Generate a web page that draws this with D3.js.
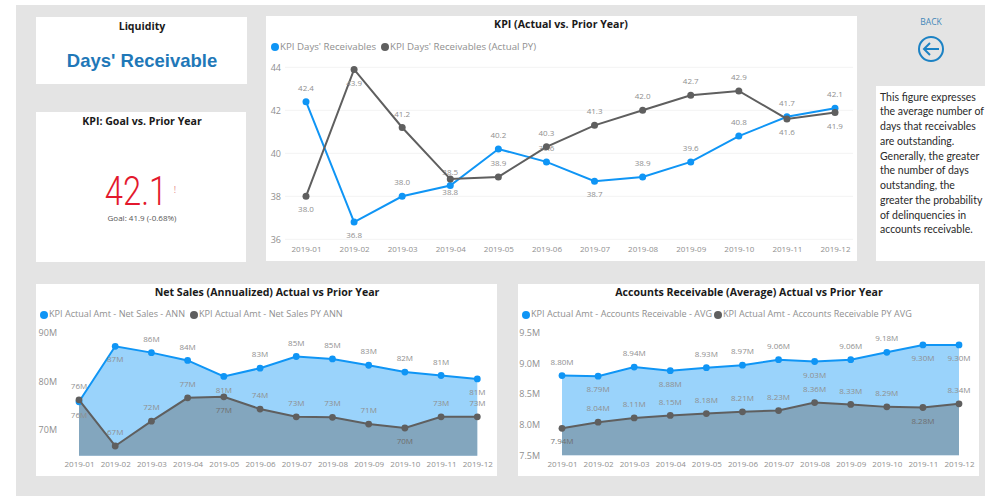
<!DOCTYPE html>
<html>
<head>
<meta charset="utf-8">
<script src="https://cdn.jsdelivr.net/npm/d3@7"></script>
<style>
  body { margin: 0; background: #fff; }
  svg { display: block; }
  text { font-family: "Open Sans", sans-serif; }
</style>
</head>
<body>
<div id="chart"></div>
<script>
const months = ["2019-01", "2019-02", "2019-03", "2019-04", "2019-05", "2019-06",
                "2019-07", "2019-08", "2019-09", "2019-10", "2019-11", "2019-12"];

const kpiActual = [42.4, 36.8, 38.0, 38.5, 40.2, 39.6, 38.7, 38.9, 39.6, 40.8, 41.7, 42.1];
const kpiPrior = [38.0, 43.9, 41.2, 38.8, 38.9, 40.3, 41.3, 42.0, 42.7, 42.9, 41.6, 41.9];
const kpiTicks = [36, 38, 40, 42, 44];

const salesActual = [75.8, 87.2, 85.9, 84.3, 81.0, 82.7, 85.1, 84.6, 83.3, 81.9, 81.2, 80.5];
const salesPrior = [76.2, 66.7, 71.8, 76.6, 76.8, 74.3, 72.7, 72.6, 71.2, 70.4, 72.7, 72.7];
const salesTicks = [70, 80, 90];

const arActual = [8.80, 8.79, 8.94, 8.88, 8.93, 8.97, 9.06, 9.03, 9.06, 9.18, 9.30, 9.30];
const arPrior = [7.94, 8.04, 8.11, 8.15, 8.18, 8.21, 8.23, 8.36, 8.33, 8.29, 8.28, 8.34];
const arTicks = [7.5, 8.0, 8.5, 9.0, 9.5];

const noteLines = ["This figure expresses", "the average number of", "days that receivables",
                   "are outstanding.", "Generally, the greater", "the number of days",
                   "outstanding, the", "greater the probability", "of delinquencies in",
                   "accounts receivable."];

// index of the points whose label sits under the point
const kpiActualBelow = [1, 6];
const kpiPriorBelow = [0, 1, 3, 10, 11];
const salesActualBelow = [0, 1, 4, 11];
const salesPriorBelow = [4, 9];
const arActualBelow = [1, 3, 7, 10, 11];
const arPriorBelow = [0, 10];

const BLUE = "#0f95f5";
const GREY = "#5f5f5f";
const LABEL = "#8f8f8f";

const svg = d3.select("#chart").append("svg")
  .attr("width", 985)
  .attr("height", 496);

svg.append("rect").attr("x", 16).attr("y", 5).attr("width", 969).attr("height", 491).attr("fill", "#e4e4e4");

function card(x, y, w, h) {
  svg.append("rect").attr("x", x).attr("y", y).attr("width", w).attr("height", h).attr("fill", "#fff");
}

function title(txt, x, y) {
  svg.append("text")
    .attr("x", x).attr("y", y)
    .attr("text-anchor", "middle")
    .attr("dominant-baseline", "middle")
    .style("font-size", "10.6px")
    .style("font-weight", 700)
    .style("fill", "#1a1a1a")
    .text(txt);
}

function drawChart(c) {
  const x = d3.scalePoint().domain(months).range(c.xRange);
  const y = d3.scaleLinear().domain(c.domain).range(c.yRange);

  // legend
  c.legend.forEach(function (d, i) {
    svg.append("circle").attr("cx", d.x).attr("cy", c.legendY).attr("r", 4).attr("fill", i == 0 ? BLUE : GREY);
    svg.append("text")
      .attr("x", d.x + 5).attr("y", c.legendY)
      .attr("dominant-baseline", "middle")
      .style("font-size", c.legendSize)
      .style("fill", "#8f8f8f")
      .text(d.name);
  });

  if (c.grid) {
    svg.append("g").selectAll("line").data(c.ticks).join("line")
      .attr("x1", c.grid[0]).attr("x2", c.grid[1])
      .attr("y1", d => y(d)).attr("y2", d => y(d))
      .attr("stroke", "#f3f3f3");
  }

  const yAxis = svg.append("g")
    .attr("transform", "translate(" + c.axisX + ",0)")
    .call(d3.axisLeft(y).tickValues(c.ticks).tickSize(0).tickPadding(0).tickFormat(c.tickFormat));
  const xAxis = svg.append("g")
    .attr("transform", "translate(0," + c.axisY + ")")
    .call(d3.axisBottom(x).tickSize(0).tickPadding(0));
  for (const a of [yAxis, xAxis]) {
    a.select(".domain").remove();
    a.selectAll("text").style("font-family", '"Open Sans", sans-serif').style("font-size", "9px").style("fill", LABEL);
  }
  xAxis.selectAll("text").attr("dy", "0.32em").style("font-size", "8px");

  const series = [
    {vals: c.actual, color: BLUE, below: c.actualBelow, opacity: 0.42},
    {vals: c.prior, color: GREY, below: c.priorBelow, opacity: 0.39}
  ];

  for (const s of series) {
    if (c.area) {
      const area = d3.area()
        .x((d, i) => x(months[i]))
        .y0(y(c.domain[0]))
        .y1(d => y(d));
      svg.append("path").attr("d", area(s.vals)).attr("fill", s.color).attr("fill-opacity", s.opacity);
    }
  }

  for (const s of series) {
    const line = d3.line().x((d, i) => x(months[i])).y(d => y(d));
    svg.append("path").attr("d", line(s.vals)).attr("fill", "none").attr("stroke", s.color).attr("stroke-width", 2);
    svg.append("g").selectAll("circle").data(s.vals).join("circle")
      .attr("cx", (d, i) => x(months[i]))
      .attr("cy", d => y(d))
      .attr("r", c.area ? 3.4 : 3.5)
      .attr("fill", s.color);
    svg.append("g").selectAll("text").data(s.vals).join("text")
      .attr("x", (d, i) => x(months[i]))
      .attr("y", (d, i) => y(d) + (s.below.includes(i) ? 14 : -13))
      .attr("text-anchor", "middle")
      .attr("dominant-baseline", "middle")
      .style("font-size", "8px")
      .style("fill", (d, i) => c.area && s.below.includes(i) && s.color == GREY ? "#6f6f6f" : LABEL)
      .text(c.valueFormat);
  }
}

// left column
card(36, 17, 211, 67);
card(36, 112, 210, 150);
title("Liquidity", 142, 27);
title("KPI: Goal vs. Prior Year", 142, 122);

svg.append("text")
  .attr("x", 142).attr("y", 62)
  .attr("text-anchor", "middle")
  .attr("dominant-baseline", "middle")
  .style("font-family", '"Liberation Sans", sans-serif')
  .style("font-size", "18.5px")
  .style("font-weight", 700)
  .style("fill", "#1f78b8")
  .text("Days' Receivable");

// DIN-like figure: Roboto Light pulled in horizontally
svg.append("text")
  .attr("transform", "translate(136,205) scale(0.8,1)")
  .attr("text-anchor", "middle")
  .style("font-family", "Roboto, sans-serif")
  .style("font-size", "41px")
  .style("font-weight", 300)
  .style("fill", "#e3182d")
  .text(kpiActual[11]);
svg.append("text")
  .attr("x", 175).attr("y", 193)
  .attr("text-anchor", "middle")
  .style("font-size", "9px")
  .style("fill", "#e58a8a")
  .text("!");
svg.append("text")
  .attr("x", 142).attr("y", 219)
  .attr("text-anchor", "middle")
  .attr("dominant-baseline", "middle")
  .style("font-size", "8px")
  .style("fill", "#555")
  .text("Goal: " + kpiPrior[11] + " (-0.68%)");

// right column
svg.append("text")
  .attr("x", 931).attr("y", 23)
  .attr("text-anchor", "middle")
  .attr("dominant-baseline", "middle")
  .style("font-size", "8.5px")
  .style("fill", "#3f86b8")
  .text("BACK");
const back = svg.append("g").attr("transform", "translate(931,49)")
  .attr("fill", "none").attr("stroke", "#1c82c4").attr("stroke-width", 2);
back.append("circle").attr("r", 12);
back.append("path").attr("d", "M8,0H-7M-1,-6L-7,0L-1,6");

card(876, 86, 109, 175);
svg.append("g").selectAll("text").data(noteLines).join("text")
  .attr("x", 880)
  .attr("y", (d, i) => 98 + i * 14.75)
  .attr("dominant-baseline", "middle")
  .style("font-family", "Lato, sans-serif")
  .style("font-size", "10.5px")
  .style("fill", "#2a2a2a")
  .text(d => d);

// KPI lines
card(266, 16, 591, 245);
title("KPI (Actual vs. Prior Year)", 561, 25.5);
drawChart({
  actual: kpiActual, prior: kpiPrior, actualBelow: kpiActualBelow, priorBelow: kpiPriorBelow,
  xRange: [306, 835], yRange: [239.3, 67.3], domain: [36, 44], ticks: kpiTicks,
  grid: [285, 853], axisX: 281, axisY: 249, legendY: 47, legendSize: "9.7px",
  legend: [{x: 275, name: "KPI Days' Receivables"}, {x: 385, name: "KPI Days' Receivables (Actual PY)"}],
  tickFormat: d => d, valueFormat: d => d.toFixed(1), area: false
});

// Net sales
card(36, 284, 461, 192);
title("Net Sales (Annualized) Actual vs Prior Year", 267, 293.5);
drawChart({
  actual: salesActual, prior: salesPrior, actualBelow: salesActualBelow, priorBelow: salesPriorBelow,
  xRange: [79, 477.3], yRange: [455.7, 332.7], domain: [64.7, 90], ticks: salesTicks,
  axisX: 57, axisY: 464, legendY: 315, legendSize: "9.1px",
  legend: [{x: 44, name: "KPI Actual Amt - Net Sales - ANN"}, {x: 194, name: "KPI Actual Amt - Net Sales PY ANN"}],
  tickFormat: d => d + "M", valueFormat: d => Math.round(d) + "M", area: true
});

// Accounts receivable
card(518, 284, 461, 192);
title("Accounts Receivable (Average) Actual vs Prior Year", 749, 293.5);
drawChart({
  actual: arActual, prior: arPrior, actualBelow: arActualBelow, priorBelow: arPriorBelow,
  xRange: [562, 959], yRange: [455.3, 332.7], domain: [7.5, 9.5], ticks: arTicks,
  axisX: 540, axisY: 464, legendY: 315, legendSize: "9.1px",
  legend: [{x: 526, name: "KPI Actual Amt - Accounts Receivable - AVG"}, {x: 718, name: "KPI Actual Amt - Accounts Receivable PY AVG"}],
  tickFormat: d => d.toFixed(1) + "M", valueFormat: d => d.toFixed(2) + "M", area: true
});
</script>
</body>
</html>
